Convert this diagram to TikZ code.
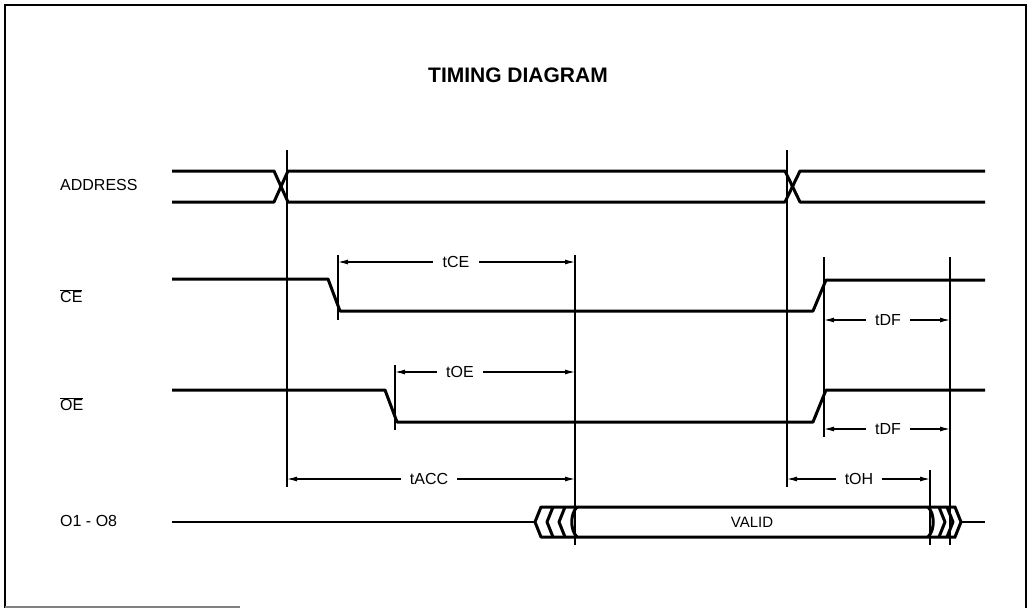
\documentclass[tikz,border=0pt]{standalone}
\usepackage{fontspec}
\setmainfont{Liberation Sans}
\usetikzlibrary{arrows.meta}
\begin{document}
\begin{tikzpicture}[x=1pt,y=-1pt,
  sig/.style={line width=3pt,line join=round},
  thin/.style={line width=1.4pt},
  vline/.style={line width=1.6pt},
  dim/.style={line width=1.2pt,-{Latex[length=10pt,width=5pt]}},
  lbl/.style={font=\fontsize{16}{19}\selectfont,inner xsep=9pt,inner ysep=0pt},
  siglbl/.style={font=\fontsize{16}{19}\selectfont,anchor=west,inner sep=0pt}]
\useasboundingbox (0,0) rectangle (1029,608);
% frame
\draw[line width=2.2pt] (5,608) -- (5,5) -- (1026,5) -- (1026,608);
\draw[line width=1.5pt,gray] (5,607) -- (240,607);
% title
\node[font=\fontsize{21}{25}\selectfont\bfseries] (title) at (518,75) {TIMING DIAGRAM};
% signal labels
\node[siglbl] (laddr) at (60,185) {ADDRESS};
\node[siglbl] (lce) at (60,296) {$\overline{\mbox{CE}}$};
\node[siglbl] (loe) at (60,404) {$\overline{\mbox{OE}}$};
\node[siglbl] (lout) at (60,521) {O1 - O8};
% ADDRESS
\draw[sig] (172,171) -- (274,171) -- (288,202) -- (785,202) -- (800,171) -- (985,171);
\draw[sig] (172,202) -- (274,202) -- (288,171) -- (785,171) -- (800,202) -- (985,202);
% CE
\draw[sig] (172,279) -- (328,279) -- (340,311) -- (813,311) -- (826,280) -- (985,280);
% OE
\draw[sig] (172,390) -- (385,390) -- (397,422) -- (813,422) -- (826,390) -- (985,390);
% O1-O8 bus
\draw[thin] (172,522) -- (535,522);
\draw[thin] (961,522) -- (985,522);
\draw[sig] (956,507) -- (541,507) -- (535,522) -- (541,537) -- (956,537);
\draw[sig] (553,507) -- (547,522) -- (553,537);
\draw[sig] (565,507) -- (559,522) -- (565,537);
\draw[sig] (577,507) .. controls (570,514) and (570,530) .. (577,537);
\draw[sig] (928,507) .. controls (935,514) and (935,530) .. (928,537);
\draw[sig] (939,507) -- (945,522) -- (939,537);
\draw[sig] (947,507) -- (953,522) -- (947,537);
\draw[sig] (955,507) -- (961,522) -- (955,537);
\node[font=\fontsize{15}{18}\selectfont] (valid) at (752,522) {VALID};
% vertical timing lines
\draw[vline] (287,150) -- (287,487);
\draw[vline] (787,150) -- (787,487);
\draw[vline] (338,255) -- (338,320);
\draw[vline] (575,255) -- (575,545);
\draw[vline] (824,257) -- (824,437);
\draw[vline] (950,257) -- (950,545);
\draw[vline] (395,365) -- (395,430);
\draw[vline] (930,470) -- (930,545);
% dimension arrows
\coordinate (ce1) at (338,262); \coordinate (ce2) at (575,262);
\node[lbl] (tce) at (456,262) {tCE};
\draw[dim] (tce.west) -- (ce1); \draw[dim] (tce.east) -- (ce2);
\coordinate (oe1) at (395,372); \coordinate (oe2) at (575,372);
\node[lbl] (toe) at (460,372) {tOE};
\draw[dim] (toe.west) -- (oe1); \draw[dim] (toe.east) -- (oe2);
\coordinate (acc1) at (287,479); \coordinate (acc2) at (575,479);
\node[lbl] (tacc) at (429,479) {tACC};
\draw[dim] (tacc.west) -- (acc1); \draw[dim] (tacc.east) -- (acc2);
\coordinate (df1) at (824,320); \coordinate (df2) at (950,320);
\node[lbl] (tdf1) at (888,320) {tDF};
\draw[dim] (tdf1.west) -- (df1); \draw[dim] (tdf1.east) -- (df2);
\coordinate (dfb1) at (824,429); \coordinate (dfb2) at (950,429);
\node[lbl] (tdf2) at (888,429) {tDF};
\draw[dim] (tdf2.west) -- (dfb1); \draw[dim] (tdf2.east) -- (dfb2);
\coordinate (oh1) at (787,479); \coordinate (oh2) at (930,479);
\node[lbl] (toh) at (859,479) {tOH};
\draw[dim] (toh.west) -- (oh1); \draw[dim] (toh.east) -- (oh2);
\end{tikzpicture}
\end{document}
